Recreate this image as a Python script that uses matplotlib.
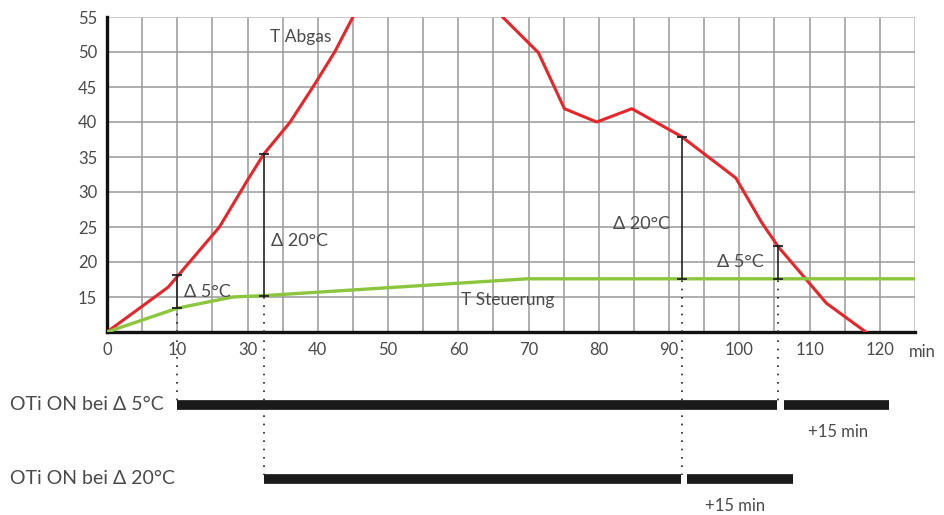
import matplotlib.pyplot as plt
import numpy as np

# T Abgas (red), one point above 55 is clipped off the top
abgas_x = [0, 8.7, 16.0, 20.0, 22.3, 26.0, 29.5, 32.4, 35.0, 45.5, 56.3, 61.4, 65.1, 69.7, 74.7, 81.8, 89.5, 93.2, 95.6, 99.6, 102.4, 108.0]
abgas_y = [10, 16.4, 25.0, 31.7, 35.4, 39.9, 45.3, 50.0, 55.0, 72.0, 55.0, 49.9, 41.9, 40.0, 41.9, 37.9, 32.0, 25.6, 22.1, 17.4, 14.1, 10.0]

# T Steuerung (green)
steuer_x = [0, 10.0, 17.9, 22.4, 59.8, 115]
steuer_y = [10, 13.4, 15.0, 15.2, 17.6, 17.6]

# delta markers: x, low, high, label
delta_x = [10.0, 22.4, 81.8, 95.5]
delta_lo = [13.4, 15.2, 17.6, 17.6]
delta_hi = [18.1, 35.5, 37.9, 22.3]
delta_txt = ["Δ 5°C", "Δ 20°C", "Δ 20°C", "Δ 5°C"]
delta_tx = [10.9, 23.4, 72.0, 86.8]
delta_ty = [15.7, 23.0, 25.4, 20.0]
delta_row = [0, 1, 1, 0]

# on-bars: row 0 = Δ5°C, row 1 = Δ20°C
bar_start = [10.0, 22.4]
bar_end = [95.5, 81.8]
extra = 15
extra_lab_off = [4.3, 3.3]

xtick_pos = [0, 10, 20, 30, 40, 50, 60, 70, 80, 90, 100, 110]
xtick_lab = ["0", "10", "30", "40", "50", "60", "70", "80", "90", "100", "110", "120"]
ytick_pos = [15, 20, 25, 30, 35, 40, 45, 50, 55]

plt.rcParams['font.family'] = ['Lato', 'DejaVu Sans']
tc = '#4a4a4a'

fig = plt.figure(figsize=(9.44, 5.15), dpi=100)
W, H = 944, 515
ax = fig.add_axes([107/W, 1-332/H, (915-107)/W, (332-17)/H])
low = fig.add_axes([107/W, 0, (915-107)/W, 1], zorder=-1)

ax.set_xlim(0, 115)
ax.set_ylim(10, 55)
for v in np.arange(5, 116, 5):
    ax.axvline(v, color='#bbbbbb' if v == 115 else '#999999', lw=1.1, zorder=0)
for v in np.arange(15, 56, 5):
    ax.axhline(v, color='#bbbbbb' if v == 55 else '#999999', lw=1.1, zorder=0)

ax.plot(abgas_x, abgas_y, color='#e8262a', lw=2.2, zorder=3)
ax.plot(steuer_x, steuer_y, color='#8cc63f', lw=2.4, zorder=3)

for x, lo, hi, t, tx, ty in zip(delta_x, delta_lo, delta_hi, delta_txt, delta_tx, delta_ty):
    ax.plot([x, x], [lo, hi], color='#222222', lw=1.2, marker='_', ms=7, mew=1.3, zorder=4)
    ax.text(tx, ty, t, fontsize=13, color=tc, va='center', ha='left')
    ax.plot([x, x], [10, lo], color='#222222', lw=1.2, ls=(0, (1, 4)), zorder=4)

ax.text(23.2, 52.1, "T Abgas", fontsize=12.5, color=tc, va='center', ha='left')
ax.text(50.4, 14.5, "T Steuerung", fontsize=12.5, color=tc, va='center', ha='left')

ax.set_xticks(xtick_pos)
ax.set_xticklabels(xtick_lab)
ax.set_yticks(ytick_pos)
ax.tick_params(length=0, labelsize=12, labelcolor=tc, pad=7)
ax.text((909-107)/808, -0.065, "min", transform=ax.transAxes, fontsize=12, color=tc, va='center', ha='left')

for s in ['top', 'right']:
    ax.spines[s].set_visible(False)
for s in ['left', 'bottom']:
    ax.spines[s].set_linewidth(2.4)
    ax.spines[s].set_color('#111111')

# lower panel, y in pixel rows of the figure
low.set_xlim(0, 115)
low.set_ylim(515, 0)
low.axis('off')
row_y = [405, 479]
for i in range(2):
    low.plot([bar_start[i], bar_end[i] - 0.1], [row_y[i]] * 2, color='#1a1a1a', lw=7, solid_capstyle='butt')
    low.plot([bar_end[i] + 0.8, bar_end[i] + 0.8 + extra], [row_y[i]] * 2, color='#1a1a1a', lw=7, solid_capstyle='butt')
    low.text(bar_end[i] + extra_lab_off[i], row_y[i] + 27, "+15 min", fontsize=12, color=tc, va='center', ha='left')
for x, r in zip(delta_x, delta_row):
    low.plot([x, x], [332, row_y[r] - 4], color='#222222', lw=1.2, ls=(0, (1, 4)))

fig.text(10/W, 1-405/H, "OTi ON bei Δ 5°C", fontsize=14, color=tc, va='center', ha='left')
fig.text(10/W, 1-478/H, "OTi ON bei Δ 20°C", fontsize=14, color=tc, va='center', ha='left')

fig.savefig('out.png', dpi=100)
